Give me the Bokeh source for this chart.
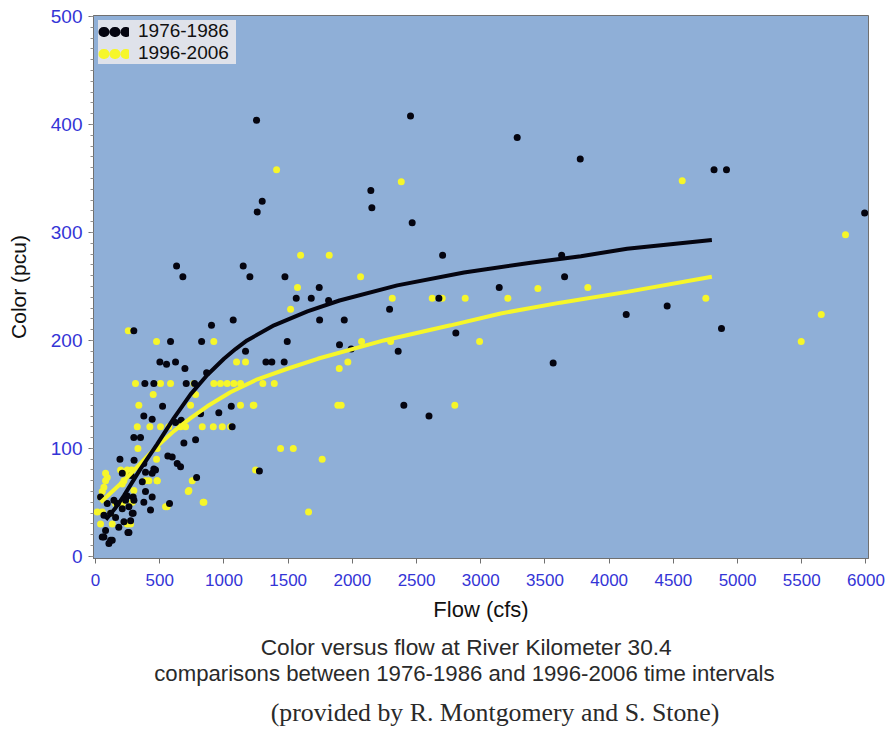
from bokeh.plotting import figure
from bokeh.layouts import column
from bokeh.models import Range1d, SingleIntervalTicker, Legend, LegendItem
from bokeh.core.properties import value
from bokeh.embed import file_html
from bokeh.resources import INLINE

# 1976-1986 observations (flow cfs, color pcu)
black_x = [1254, 2453, 3284, 3775, 4817, 4914, 5990,
           1298, 1259, 2144, 2152, 2466, 2703, 3630, 3653, 3144,
           631, 680, 1150, 1202, 1475, 1742, 1563, 1680, 1815,
           1745, 1072, 903, 298, 584, 826, 1493, 1900,
           1937, 2290, 2674, 2806, 4133, 4452, 4875,
           3564, 2401, 2597, 2357, 1991,
           1327, 1373, 1469, 1276,
           1168, 501, 553, 623, 696,
           384, 454, 706, 771, 865,
           376, 441, 522, 667, 818, 960, 1057, 623, 1064,
           688, 779, 298, 350,
           190, 300, 563, 597, 636, 662,
           376, 454, 467, 208, 389, 441, 364, 278, 787,
           576, 376, 428, 389, 441, 293, 299, 293, 260,
           39, 91, 65, 117, 156, 208, 247, 234, 260, 286, 221, 252,
           65, 117, 104, 130, 52, 143, 169, 181, 78, 273]
black_y = [404, 408, 388, 368, 358, 358, 318,
           329, 319, 339, 323, 309, 279, 279, 259, 249,
           269, 259, 269, 259, 259, 249, 239, 239, 237,
           219, 219, 214, 209, 199, 199, 199, 196,
           219, 229, 239, 207, 224, 232, 211,
           179, 140, 130, 190, 192,
           180, 180, 180, 79,
           190, 180, 178, 180, 174,
           160, 160, 160, 160, 170,
           130, 127, 139, 126, 132, 133, 139, 124, 120,
           105, 108, 110, 110,
           90, 89, 93, 92, 86, 83,
           86, 81, 80, 77, 78, 77, 69, 75, 73,
           49, 50, 43, 60, 55, 55, 52, 40, 22,
           55, 49, 38, 40, 36, 44, 56, 52, 46, 40, 32, 22,
           18, 15, 12, 15, 18, 52, 49, 27, 24, 33]

# 1996-2006 observations (flow cfs, color pcu)
yellow_x = [1410, 4569, 2381, 5841, 1597, 1820, 2064, 1573, 3445, 3834,
            1519, 255, 475, 921, 2072, 2298, 2991, 5496, 5652, 4753,
            2311, 2622, 2700, 2879, 3211,
            1098, 1168, 1965, 1898,
            1303, 1392, 1233, 1887, 1913, 2798, 1441, 1540, 1765, 1246, 1659,
            311, 506, 584, 766, 921, 973, 1025, 1077, 1129,
            337, 740, 1129, 1228,
            449, 779,
            325, 423, 506, 571, 662, 701, 831, 917, 987, 1051,
            330, 480, 475,
            195, 247, 280,
            415, 480, 753, 722, 838, 545,
            78, 91, 78, 65, 52, 39,
            221, 247, 208, 221, 298, 286, 208, 156,
            13, 52, 117, 39, 130, 247, 273, 389, 480, 558, 727, 844]
yellow_y = [358, 348, 347, 298, 279, 279, 259, 249, 248, 249,
            229, 209, 199, 199, 199, 199, 199, 199, 224, 239,
            239, 239, 239, 239, 239,
            180, 180, 180, 174,
            160, 160, 140, 140, 140, 140, 100, 100, 90, 80, 41,
            160, 160, 160, 160, 160, 160, 160, 160, 160,
            140, 140, 140, 140,
            150, 150,
            120, 120, 120, 120, 120, 120, 120, 120, 120, 120,
            100, 100, 90,
            80, 80, 80,
            70, 70, 70, 60, 50, 46,
            77, 73, 70, 64, 60, 55,
            78, 78, 67, 70, 61, 50, 49, 49,
            41, 41, 40, 30, 30, 30, 30, 70, 70, 46, 61, 50]

# fitted curves
black_fit_x = [80, 150, 220, 350, 480, 610, 740, 870, 1000, 1090, 1180, 1390, 1650, 1900,
               2350, 2870, 3390, 3780, 4140, 4800]
black_fit_y = [34, 44, 56, 81, 104, 128, 150, 168, 183, 192, 200, 214, 227, 237,
               251, 263, 272, 278, 285, 293]
yellow_fit_x = [40, 130, 220, 350, 480, 610, 740, 870, 1050, 1260, 1500, 1730, 2245, 2765,
                3155, 3620, 4140, 4800]
yellow_fit_y = [50, 60, 70, 86, 102, 116, 128, 139, 152, 164, 174, 183, 200, 214,
                225, 235, 245, 259]

series_labels = ["1976-1986", "1996-2006"]
x_label = "Flow (cfs)"
y_label = "Color (pcu)"
caption_lines = ["Color versus flow at River Kilometer 30.4",
                 "comparisons between 1976-1986 and 1996-2006 time intervals"]
credit_line = "(provided by R. Montgomery and S. Stone)"

BLACK = "#050510"
YELLOW = "#f6f62a"
TICK_BLUE = "#3434d6"
SANS = "Liberation Sans"

W = 888
H_MAIN = 630
H_CAP = 99

p = figure(width=W, height=H_MAIN, x_range=Range1d(-16, 6020), y_range=Range1d(-2, 501),
           output_backend="svg", toolbar_location=None,
           min_border_left=93, min_border_right=W - 868, min_border_top=15,
           min_border_bottom=H_MAIN - 558)
p.background_fill_color = "#8fafd7"
p.border_fill_color = "white"
p.outline_line_color = "#707070"
p.grid.visible = False

p.xaxis.ticker = SingleIntervalTicker(interval=500, num_minor_ticks=0)
p.yaxis.ticker = SingleIntervalTicker(interval=100, num_minor_ticks=10)
for ax in (p.xaxis, p.yaxis):
    ax.axis_line_color = "#707070"
    ax.major_tick_line_color = "#707070"
    ax.minor_tick_line_color = "#909090"
    ax.major_tick_in = 0
    ax.major_tick_out = 5
    ax.minor_tick_in = 0
    ax.minor_tick_out = 3
    ax.major_label_text_color = TICK_BLUE
    ax.major_label_text_font = SANS
    ax.axis_label_text_font = SANS
    ax.axis_label_text_font_style = "normal"
    ax.axis_label_text_color = "#111111"
p.xaxis.minor_tick_line_color = None
p.xaxis.major_label_text_font_size = "17px"
p.yaxis.major_label_text_font_size = "19px"
p.xaxis.axis_label_text_font_size = "22px"
p.yaxis.axis_label_text_font_size = "21px"
p.xaxis.major_label_standoff = 10
p.yaxis.major_label_standoff = 6
p.xaxis.axis_label_standoff = 8
p.yaxis.axis_label_standoff = 18
p.xaxis.axis_label = x_label
p.yaxis.axis_label = y_label

p.scatter(yellow_x, yellow_y, size=7, color=YELLOW, line_color=None)
p.scatter(black_x, black_y, size=7, color=BLACK, line_color=None)
p.line(yellow_fit_x, yellow_fit_y, line_width=4, color=YELLOW)
p.line(black_fit_x, black_fit_y, line_width=4, color=BLACK)

# legend-only renderers: drawn on a range that lies off the frame, so only the
# legend swatch (a row of three dots) is visible
p.extra_y_ranges = {"legend_only": Range1d(-2000, -1000)}
leg_b = p.line(black_fit_x, black_fit_y, y_range_name="legend_only", line_width=10,
               line_cap="round", line_dash="1 10", line_dash_offset=-5, color=BLACK)
leg_y = p.line(yellow_fit_x, yellow_fit_y, y_range_name="legend_only", line_width=10,
               line_cap="round", line_dash="1 10", line_dash_offset=-5, color=YELLOW)
legend = Legend(items=[LegendItem(label=series_labels[0], renderers=[leg_b]),
                       LegendItem(label=series_labels[1], renderers=[leg_y])],
                location="top_left", margin=5, padding=0, spacing=0,
                glyph_width=31, glyph_height=21, label_standoff=9, label_width=98,
                label_text_font=SANS, label_text_font_size="19px", label_text_color="#111111",
                background_fill_color="#dfe2ea", background_fill_alpha=1.0,
                border_line_color=None)
p.add_layout(legend)

# caption strip below the chart: a blank figure (no axes) whose ranges are its own pixels
cap = figure(width=W, height=H_CAP, x_range=Range1d(0, W), y_range=Range1d(H_CAP, 0),
             output_backend="svg", toolbar_location=None,
             x_axis_location=None, y_axis_location=None,
             min_border=0, min_border_left=0, min_border_right=0,
             min_border_top=0, min_border_bottom=0)
cap.grid.visible = False
cap.outline_line_color = None
cap.background_fill_color = "white"
cap.border_fill_color = "white"
cap.text(x=[427], y=[16], text=[caption_lines[0]], text_font=value(SANS),
         text_font_size=value("22.7px"), text_align="center", text_baseline="middle",
         text_color="#2a2a2a")
cap.text(x=[425], y=[43], text=[caption_lines[1]], text_font=value(SANS),
         text_font_size=value("22.2px"), text_align="center", text_baseline="middle",
         text_color="#2a2a2a")
cap.text(x=[460], y=[82], text=[credit_line], text_font=value("Liberation Serif"),
         text_font_size=value("25.8px"), text_align="center", text_baseline="middle",
         text_color="#2a2a2a")

layout = column(p, cap, spacing=0)
open("out.html", "w").write(file_html(layout, INLINE))
